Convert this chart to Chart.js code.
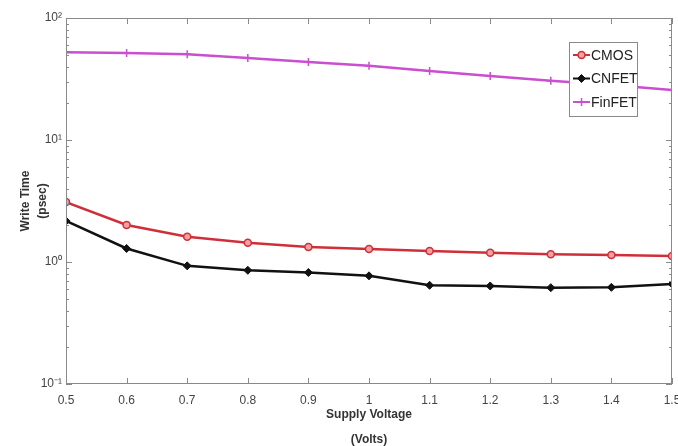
<!DOCTYPE html>
<html>
<head>
<meta charset="utf-8">
<script src="https://cdn.jsdelivr.net/npm/chart.js@4"></script>
<style>
  html, body { margin: 0; padding: 0; background: #fff; }
  #wrap { width: 678px; height: 446px; }
</style>
</head>
<body>
<div id="wrap"><canvas id="writeChart"></canvas></div>
<script>
// supply voltage (V) and write time (psec)
const voltages = [0.5, 0.6, 0.7, 0.8, 0.9, 1.0, 1.1, 1.2, 1.3, 1.4, 1.5];
const cmos   = [3.10, 2.01, 1.61, 1.44, 1.33, 1.28, 1.23, 1.19, 1.16, 1.14, 1.12];
const cnfet  = [2.17, 1.29, 0.93, 0.855, 0.82, 0.77, 0.644, 0.636, 0.616, 0.62, 0.66];
const finfet = [52.4, 51.7, 50.4, 47.0, 43.5, 40.6, 36.8, 33.5, 30.6, 28.3, 25.7];
const yTicks = [0.1, 1, 10, 100];
const yTickText = ['10\u207B\u00B9', '10\u2070', '10\u00B9', '10\u00B2'];

const FONT = "'Liberation Sans', Arial, sans-serif";

function pts(vals) {
  return vals.map((v, i) => ({ x: voltages[i], y: v }));
}

// box round the plot plus inward ticks (minor ones on the log axis)
const boxTicks = {
  id: 'boxTicks',
  afterDatasetsDraw(chart) {
    const { ctx, chartArea: a, scales } = chart;
    ctx.save();
    ctx.strokeStyle = '#8a8a8a';
    ctx.lineWidth = 1;
    ctx.strokeRect(a.left + 0.5, a.top + 0.5, a.right - a.left - 1, a.bottom - a.top - 1);
    ctx.beginPath();
    voltages.forEach(v => {
      const x = Math.round(scales.x.getPixelForValue(v)) + 0.5;
      ctx.moveTo(x, a.bottom); ctx.lineTo(x, a.bottom - 6);
      ctx.moveTo(x, a.top); ctx.lineTo(x, a.top + 6);
    });
    for (let d = 0.1; d < 100; d *= 10) {
      for (let m = 1; m < 10; m++) {
        const v = d * m;
        const y = Math.round(scales.y.getPixelForValue(v)) + 0.5;
        const len = m === 1 ? 6 : 3;
        ctx.moveTo(a.left, y); ctx.lineTo(a.left + len, y);
        ctx.moveTo(a.right, y); ctx.lineTo(a.right - len, y);
      }
    }
    ctx.stroke();
    ctx.restore();
  }
};

// legend with line + marker samples, like the figure
const lineLegend = {
  id: 'lineLegend',
  afterDraw(chart) {
    const { ctx } = chart;
    const bx = 569, by = 42, bw = 68, bh = 74;
    ctx.save();
    ctx.fillStyle = '#fff';
    ctx.fillRect(bx, by, bw, bh);
    ctx.strokeStyle = '#8a8a8a';
    ctx.lineWidth = 1;
    ctx.strokeRect(bx + 0.5, by + 0.5, bw, bh);
    chart.data.datasets.forEach((ds, i) => {
      const y = 55 + i * 23.5;
      ctx.strokeStyle = ds.borderColor;
      ctx.lineWidth = 2;
      ctx.beginPath();
      ctx.moveTo(573, y); ctx.lineTo(590, y);
      ctx.stroke();
      ctx.fillStyle = ds.pointBackgroundColor;
      ctx.strokeStyle = ds.pointBorderColor;
      ctx.lineWidth = ds.pointBorderWidth;
      Chart.helpers.drawPoint(ctx, { pointStyle: ds.pointStyle, radius: ds.pointRadius, borderWidth: ds.pointBorderWidth }, 581.5, y);
      ctx.fillStyle = '#222';
      ctx.font = '14px ' + FONT;
      ctx.textBaseline = 'middle';
      ctx.fillText(ds.label, 591, y + 1);
    });
    ctx.restore();
  }
};

new Chart(document.getElementById('writeChart'), {
  type: 'line',
  data: {
    datasets: [
      {
        label: 'CMOS', data: pts(cmos),
        borderColor: '#cf2f38', borderWidth: 2.5,
        pointStyle: 'circle', pointRadius: 3.5, pointBorderWidth: 1.5,
        pointBorderColor: '#cf2f38', pointBackgroundColor: '#f3a0a4'
      },
      {
        label: 'CNFET', data: pts(cnfet),
        borderColor: '#111111', borderWidth: 2.5,
        pointStyle: 'rectRot', pointRadius: 4, pointBorderWidth: 1,
        pointBorderColor: '#111111', pointBackgroundColor: '#111111'
      },
      {
        label: 'FinFET', data: pts(finfet),
        borderColor: '#c94fd0', borderWidth: 2.5,
        pointStyle: 'cross', pointRadius: 4, pointBorderWidth: 1.5,
        pointBorderColor: '#c94fd0', pointBackgroundColor: '#c94fd0'
      }
    ]
  },
  options: {
    responsive: true,
    maintainAspectRatio: false,
    animation: false,
    layout: { padding: { top: 18, right: 6, left: 0, bottom: 0 } },
    plugins: { legend: { display: false }, tooltip: { enabled: false } },
    scales: {
      x: {
        type: 'linear', min: 0.5, max: 1.5,
        afterBuildTicks: s => { s.ticks = voltages.map(v => ({ value: v })); },
        afterFit: s => { s.height = 62; s.paddingLeft = 0; s.paddingRight = 0; },
        grid: { display: false, drawTicks: false },
        border: { display: false },
        ticks: {
          color: '#444', padding: 9,
          font: { family: FONT, size: 12 },
          callback: v => String(Number(v.toFixed(1)))
        },
        title: {
          display: true, text: ['Supply Voltage', '(Volts)'],
          color: '#333', padding: { top: 0, bottom: -6 },
          font: { family: FONT, size: 12, weight: 'bold', lineHeight: 2.08 }
        }
      },
      y: {
        type: 'logarithmic', min: 0.1, max: 100,
        afterBuildTicks: s => { s.ticks = yTicks.map(v => ({ value: v })); },
        afterFit: s => { s.width = 66; },
        grid: { display: false, drawTicks: false },
        border: { display: false },
        ticks: {
          color: '#444', padding: 4,
          font: { family: FONT, size: 12 },
          callback: v => yTickText[yTicks.indexOf(v)] || ''
        },
        title: {
          display: true, text: ['Write Time', '(psec)'],
          color: '#333', padding: { top: 17, bottom: 0 },
          font: { family: FONT, size: 12, weight: 'bold', lineHeight: 1.4 }
        }
      }
    }
  },
  plugins: [boxTicks, lineLegend]
});
</script>
</body>
</html>
